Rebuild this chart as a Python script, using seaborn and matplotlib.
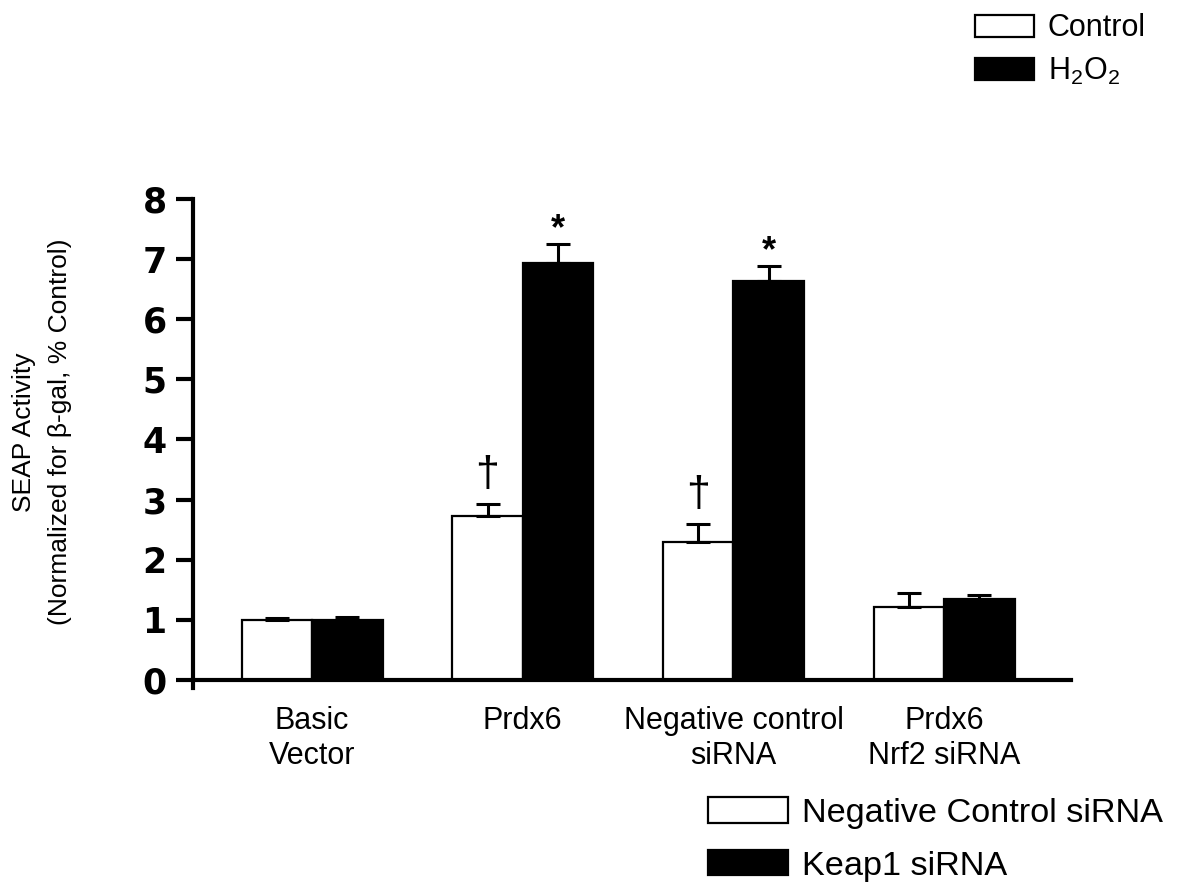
import numpy as np
import pandas as pd
import seaborn as sns
import matplotlib.pyplot as plt
from matplotlib.patches import Patch

# values
groups = ["Basic\nVector", "Prdx6", "Negative control\nsiRNA", "Prdx6\nNrf2 siRNA"]
control = [1.00, 2.73, 2.30, 1.22]
control_err = [0.03, 0.20, 0.30, 0.23]
h2o2 = [1.00, 6.93, 6.64, 1.34]
h2o2_err = [0.04, 0.32, 0.25, 0.08]
control_marks = ["", "\u2020", "\u2020", ""]
h2o2_marks = ["", "*", "*", ""]
yticks = [0, 1, 2, 3, 4, 5, 6, 7, 8]

df = pd.DataFrame({
    "group": groups * 2,
    "treatment": ["Control"] * 4 + ["H2O2"] * 4,
    "value": control + h2o2,
})

sns.set_style("white")
plt.rcParams['font.family'] = ['Liberation Sans', 'DejaVu Sans']
plt.rcParams['mathtext.fontset'] = 'custom'
plt.rcParams['mathtext.rm'] = 'Liberation Sans'
plt.rcParams['mathtext.default'] = 'regular'
for k in ['text.color', 'axes.labelcolor', 'xtick.color', 'ytick.color']:
    plt.rcParams[k] = 'black'

fig = plt.figure(figsize=(11.8, 8.86), dpi=100)
ax = fig.add_axes([0.1636, 0.2237, 0.7437, 0.5517])

sns.barplot(data=df, x="group", y="value", hue="treatment",
            palette={"Control": "white", "H2O2": "black"},
            edgecolor="black", linewidth=1.6, width=0.67, saturation=1,
            errorbar=None, legend=False, ax=ax)

# one-sided error bars and significance marks
bars = ax.patches
errs = control_err + h2o2_err
marks = control_marks + h2o2_marks
for p, e, m in zip(bars, errs, marks):
    xc = p.get_x() + p.get_width() / 2
    top = p.get_height()
    ax.errorbar([xc], [top], yerr=[[0], [e]], fmt="none", ecolor="black",
                elinewidth=2.2, capsize=8.3, capthick=2.2, zorder=1)
    if m == "*":
        ax.text(xc, top + e + 0.24, m, ha="center", va="center",
                fontsize=26, fontweight="bold")
    elif m:
        ax.text(xc, top + e + 0.48, m, ha="center", va="center",
                fontsize=31)

ax.set_xlim(-0.565, 3.6)
ax.set_ylim(-0.13, 8)
ax.set_yticks(yticks)
ax.set_yticklabels([str(t) for t in yticks], fontsize=25, fontweight="bold",
                   family="DejaVu Sans")
ax.set_xlabel("")
ax.set_ylabel("")
ax.set_xticks(range(len(groups)))
ax.set_xticklabels(groups, linespacing=1.3)
ax.set_xticks([3.6], minor=True)
ax.tick_params(axis="x", which="major", length=0, pad=19, labelsize=22)
ax.tick_params(axis="x", which="minor", length=6, width=3, direction="out",
               color="black")
ax.tick_params(axis="y", length=12, width=3, direction="out", pad=7,
               color="black", left=True)

for s in ["top", "right"]:
    ax.spines[s].set_visible(False)
ax.spines["bottom"].set_position(("data", 0))
for s in ["left", "bottom"]:
    ax.spines[s].set_linewidth(3)
    ax.spines[s].set_color("black")

fig.text(42 / 1180, 1 - 432 / 886,
         "SEAP Activity\n(Normalized for \u03b2-gal, % Control)",
         rotation=90, ha="center", va="center", fontsize=19, linespacing=1.6)

h_white = Patch(facecolor="white", edgecolor="black", linewidth=1.6)
h_black = Patch(facecolor="black", edgecolor="black", linewidth=1.6)

leg1 = fig.legend([h_white, h_black], ["Control", "H$_2$O$_2$"],
                  loc="upper left", bbox_to_anchor=(0.826, 0.985),
                  frameon=False, fontsize=22, borderpad=0, borderaxespad=0,
                  handlelength=1.93, handleheight=0.72, handletextpad=0.46,
                  labelspacing=0.4)
leg2 = fig.legend([h_white, h_black], ["Negative Control siRNA", "Keap1 siRNA"],
                  loc="upper left", bbox_to_anchor=(0.600, 0.100),
                  frameon=False, fontsize=24.7, borderpad=0, borderaxespad=0,
                  handlelength=2.33, handleheight=0.75, handletextpad=0.4,
                  labelspacing=0.62)

plt.savefig("out.png", dpi=100)
